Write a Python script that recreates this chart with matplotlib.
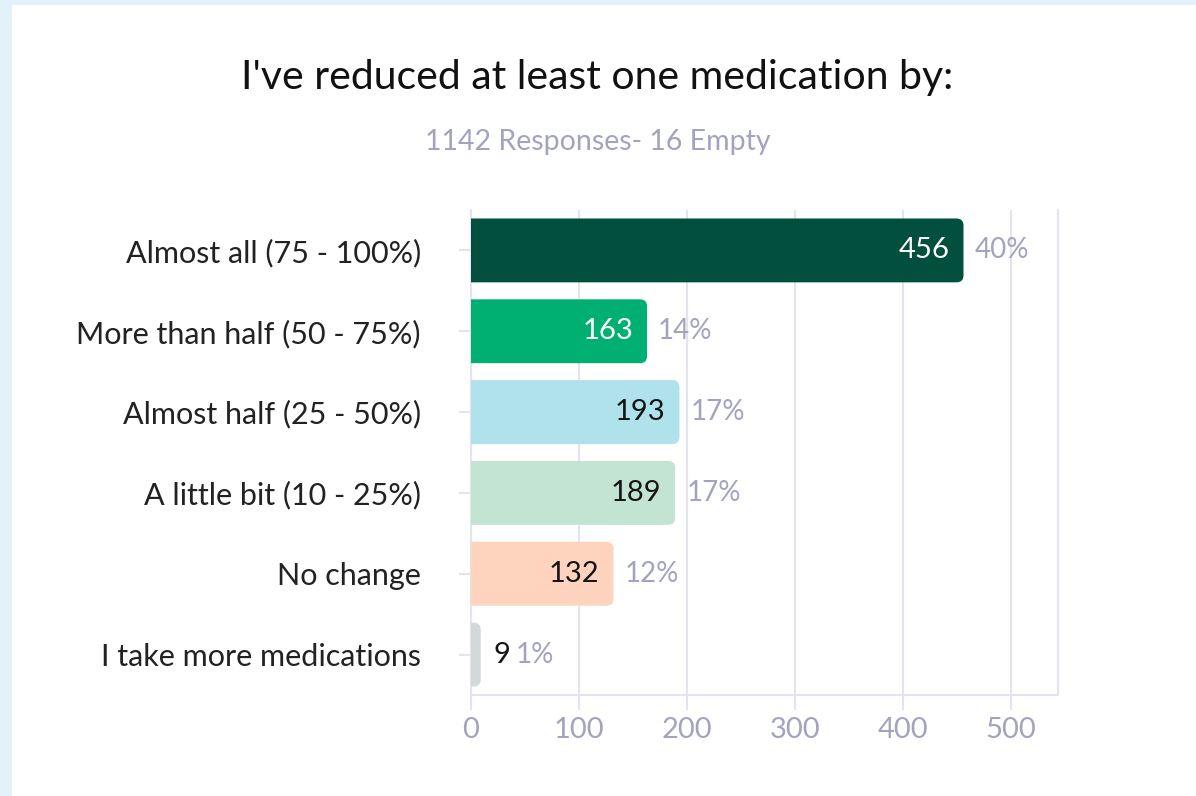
import matplotlib
matplotlib.use("Agg")
import matplotlib.pyplot as plt
from matplotlib.patches import FancyBboxPatch, Rectangle

categories = ["Almost all (75 - 100%)", "More than half (50 - 75%)", "Almost half (25 - 50%)",
              "A little bit (10 - 25%)", "No change", "I take more medications"]
counts = [456, 163, 193, 189, 132, 9]
percents = ["40%", "14%", "17%", "17%", "12%", "1%"]
bar_colors = ["#024f3d", "#00b073", "#b0e2ec", "#c3e4d2", "#ffd3bd", "#d5d8d8"]
count_colors = ["white", "white", "#151515", "#151515", "#151515", "#151515"]
xticks = [0, 100, 200, 300, 400, 500]

plt.rcParams["font.family"] = ["Lato", "DejaVu Sans"]
grid_c = "#e4e4ee"
muted = "#a3a3c0"

fig = plt.figure(figsize=(11.96, 7.96), dpi=100)
fig.patch.set_facecolor("#e3f2f8")
fig.add_artist(Rectangle((12 / 1196, 0), 1, 1 - 5 / 796, transform=fig.transFigure,
                         facecolor="white", edgecolor="none", zorder=0))

ax = fig.add_axes([471 / 1196, 1 - 695 / 796, 587 / 1196, 485 / 796])
ax.set_facecolor("none")
ax.set_xlim(0, 543.5)
ax.set_ylim(5.5, -0.5)

# px per data unit, so the rounded corners come out round
px_x = 587 / 543.5
px_y = 485 / 6.0
r_px = 7
bh = 0.79
for i, (v, c) in enumerate(zip(counts, bar_colors)):
    rx = r_px / px_x
    box = FancyBboxPatch((-rx, i - bh / 2), v + rx, bh,
                         boxstyle=f"round,pad=0,rounding_size={rx}",
                         mutation_aspect=px_x / px_y,
                         facecolor=c, edgecolor="none", zorder=3)
    ax.add_patch(box)
    if v > 50:
        ax.annotate(str(v), (v, i), xytext=(-10, 0), textcoords="offset points",
                    ha="right", va="center", fontsize=21, color=count_colors[i], zorder=4)
        ax.annotate(percents[i], (v, i), xytext=(8, 0), textcoords="offset points",
                    ha="left", va="center", fontsize=20, color=muted, zorder=4)
    else:
        # small bar: count sits outside, right of the bar
        ax.annotate(str(v), (v, i), xytext=(9, 0), textcoords="offset points",
                    ha="left", va="center", fontsize=21, color=count_colors[i], zorder=4)
        ax.annotate(percents[i], (v, i), xytext=(25, 0), textcoords="offset points",
                    ha="left", va="center", fontsize=20, color=muted, zorder=4)

ax.set_yticks(range(len(categories)))
ax.set_yticklabels(categories, fontsize=22, color="#222222")
ax.set_xticks(xticks)
ax.set_xticklabels([str(t) for t in xticks], fontsize=21, color=muted)
ax.tick_params(axis="y", length=9, width=1.5, color=grid_c, pad=27)
ax.tick_params(axis="x", length=11, width=1.5, color=grid_c, pad=5)
ax.grid(axis="x", color=grid_c, linewidth=1.5, zorder=1)
ax.set_axisbelow(True)
for s in ["left", "bottom", "right"]:
    ax.spines[s].set_color(grid_c)
    ax.spines[s].set_linewidth(1.5)
ax.spines["top"].set_visible(False)

fig.text(0.4996, 1 - 78 / 796, "I've reduced at least one medication by:",
         ha="center", va="center", fontsize=29.5, color="#111111")
fig.text(0.4996, 1 - 142 / 796, "1142 Responses- 16 Empty",
         ha="center", va="center", fontsize=20.5, color=muted)

fig.savefig("out.png", dpi=100)
